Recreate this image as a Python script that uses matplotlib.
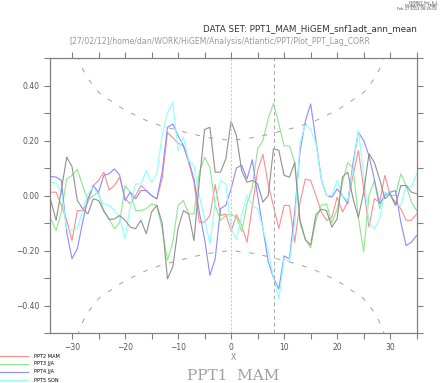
import numpy as np
import matplotlib
matplotlib.use("Agg")
import matplotlib.pyplot as plt
from matplotlib.ticker import MultipleLocator, FixedLocator

lags = list(range(-34, 36))

ppt2_mam = [0.012, 0.012, -0.036, -0.09, -0.164, -0.055, -0.055, -0.024, 0.036, 0.055,
            0.085, 0.02, 0.036, 0.067, -0.012, -0.03, 0.0, 0.036, 0.018, 0.0,
            -0.012, 0.06, 0.23, 0.21, 0.19, 0.18, 0.121, 0.048, -0.097, -0.097,
            -0.073, 0.04, -0.073, -0.067, -0.13, -0.07, -0.11, -0.17, -0.04, 0.09,
            0.15, 0.04, -0.04, -0.12, -0.036, -0.036, -0.17, -0.024, 0.06, 0.055,
            0.0, -0.06, -0.09, -0.08, -0.006, -0.06, -0.024, 0.073, 0.164, 0.024,
            -0.115, -0.012, -0.024, 0.073, 0.0, -0.024, -0.048, -0.09, -0.09, -0.067]

ppt3_jja = [-0.085, -0.127, -0.06, 0.06, 0.073, 0.095, 0.036, -0.018, 0.0, 0.012,
            -0.06, -0.085, -0.121, -0.097, 0.036, 0.012, -0.055, -0.055, -0.048, -0.03,
            -0.036, -0.121, -0.236, -0.17, -0.036, -0.018, -0.067, -0.067, 0.085, 0.139,
            0.103, -0.036, -0.09, -0.073, -0.067, -0.08, -0.13, -0.03, 0.03, 0.17,
            0.2, 0.28, 0.335, 0.26, 0.18, 0.18, 0.12, -0.1, -0.16, -0.19,
            -0.09, -0.036, -0.03, -0.1, -0.05, 0.048, 0.12, 0.1, -0.08, -0.206,
            0.0, 0.055, -0.048, 0.012, 0.0, 0.0, 0.079, 0.036, -0.024, -0.055]

ppt4_jja = [0.069, 0.067, 0.055, -0.133, -0.23, -0.194, -0.097, -0.012, 0.036, 0.012,
            0.073, 0.079, 0.097, 0.073, -0.018, 0.012, -0.012, 0.018, 0.018, 0.0,
            -0.012, 0.085, 0.248, 0.26, 0.218, 0.182, 0.127, 0.06, -0.06, -0.158,
            -0.29, -0.23, -0.048, -0.036, 0.024, 0.1, 0.11, 0.06, 0.13, 0.0,
            -0.12, -0.24, -0.3, -0.34, -0.22, -0.23, -0.06, 0.16, 0.27, 0.333,
            0.2, 0.06, 0.0, -0.006, 0.024, 0.0, -0.03, 0.12, 0.23, 0.2,
            0.145, 0.06, -0.03, 0.0, 0.012, 0.018, -0.097, -0.182, -0.17, -0.145]

ppt5_son = [0.048, 0.045, 0.012, -0.121, -0.127, -0.121, -0.055, 0.006, 0.03, 0.0,
            -0.03, -0.036, -0.055, -0.079, -0.158, -0.036, 0.042, 0.042, 0.091, 0.048,
            0.079, 0.22, 0.30, 0.34, 0.163, 0.212, 0.127, 0.109, 0.0, -0.085,
            -0.176, -0.024, 0.055, 0.042, -0.12, -0.16, -0.07, 0.0, -0.036, -0.048,
            -0.12, -0.2, -0.3, -0.376, -0.23, -0.24, -0.1, 0.19, 0.26, 0.24,
            0.19, 0.06, 0.0, 0.0, 0.055, 0.0, -0.02, 0.1, 0.236, 0.073,
            -0.097, -0.121, -0.085, 0.012, 0.0, -0.036, -0.036, 0.036, 0.03, 0.079]

ppt6 = [-0.018, -0.09, 0.02, 0.14, 0.105, -0.018, -0.048, -0.067, -0.012, -0.018,
        -0.055, -0.087, -0.085, -0.073, -0.09, -0.115, -0.121, -0.09, -0.139, -0.06,
        -0.036, -0.1, -0.303, -0.26, -0.12, -0.055, -0.067, -0.164, 0.05, 0.24,
        0.248, 0.085, 0.085, 0.133, 0.27, 0.218, 0.09, 0.048, 0.055, 0.042,
        -0.024, 0.0, 0.17, 0.164, 0.073, 0.067, 0.12, -0.09, -0.16, -0.18,
        -0.07, -0.05, -0.055, -0.115, -0.085, 0.067, 0.085, -0.012, -0.08, 0.012,
        0.152, 0.121, 0.06, -0.012, 0.006, -0.036, 0.036, 0.036, 0.012, 0.006]

sig_lags = [-29, -28, -27, -25, -22, -20, -16, -13, -10, -7, -4, 0, 4, 7, 10, 13, 16, 20, 22, 25, 27, 28, 29]
sig_upper = [0.51, 0.46, 0.425, 0.375, 0.335, 0.31, 0.273, 0.252, 0.237, 0.222, 0.21, 0.20,
             0.21, 0.222, 0.237, 0.252, 0.273, 0.31, 0.335, 0.375, 0.425, 0.46, 0.51]

series_labels = ["PPT2 MAM", "PPT3 JJA", "PPT4 JJA", "PPT5 SON", "PPT6"]
series_colors = ["#ff8c8c", "#8ce88c", "#8c8cff", "#8cffff", "#909090"]
yticks_major = [-0.4, -0.2, 0.0, 0.2, 0.4]
ytick_labels = ["\u22120.40", "\u22120.20", "0.00", "0.20", "0.40"]
xticks_major = [-30, -20, -10, 0, 10, 20, 30]
xtick_labels = ["\u221230", "\u221220", "\u221210", "0", "10", "20", "30"]

fig = plt.figure(figsize=(4.4, 3.83), dpi=100)
ax = fig.add_axes([50 / 440, 1 - 333 / 383, (416.7 - 50) / 440, (333 - 58) / 383])

series = [ppt2_mam, ppt3_jja, ppt4_jja, ppt5_son, ppt6]
handles = []
for vals, col, lab in zip(series, series_colors, series_labels):
    h, = ax.plot(lags, vals, color=col, lw=0.8, label=lab)
    handles.append(h)

sig_u = np.array(sig_upper)
ax.plot(sig_lags, sig_u, color="#a0a0a0", lw=0.7, ls=(0, (5, 9)))
ax.plot(sig_lags, -sig_u, color="#a0a0a0", lw=0.7, ls=(0, (5, 9)))

ax.axvline(0, color="#cccccc", lw=0.8, ls=(0, (2, 1.5)))
ax.axvline(8, color="#aaaaaa", lw=0.7, ls=(0, (4, 3)))

ax.set_xlim(-34.15, 35)
ax.set_ylim(-0.5, 0.5)

spine_col = "#808080"
for s in ax.spines.values():
    s.set_color(spine_col)
    s.set_linewidth(0.9)

ax.xaxis.set_major_locator(FixedLocator(xticks_major))
ax.set_xticklabels(xtick_labels)
ax.xaxis.set_minor_locator(MultipleLocator(5))
ax.yaxis.set_major_locator(FixedLocator(yticks_major))
ax.set_yticklabels(ytick_labels)
ax.yaxis.set_minor_locator(MultipleLocator(0.1))
ax.tick_params(which="both", direction="out", length=4.5, width=0.8, color=spine_col,
               top=True, right=True, labelsize=5.5, labelcolor="#555555", pad=3)
ax.tick_params(axis="x", pad=3)

fig.text(233 / 440, 1 - 357 / 383, "X", ha="center", va="center", fontsize=5.5, color="#888888")
fig.text(233 / 440, 1 - 376.5 / 383, "PPT1  MAM", ha="center", va="center", fontsize=11,
         color="#a0a0a0", family="DejaVu Serif")

fig.text(416.7 / 440, 1 - 28.3 / 383, "DATA SET: PPT1_MAM_HiGEM_snf1adt_ann_mean",
         ha="right", va="center", fontsize=6.3, color="#333333")
fig.text(220 / 440, 1 - 41.7 / 383,
         "[27/02/12]/home/dan/WORK/HiGEM/Analysis/Atlantic/PPT/Plot_PPT_Lag_CORR",
         ha="center", va="center", fontsize=5.6, color="#999999")
for i, t in enumerate(["FERRET Ver. 6.1", "NOAA/PMEL TMAP", "Feb 27 2012 08:35:02"]):
    fig.text(437 / 440, 1 - (2.8 + 2.9 * i) / 383, t, ha="right", va="center",
             fontsize=2.6, color="#444444")

fig.legend(handles[:4], series_labels[:4], loc="upper left",
           bbox_to_anchor=(0.0, 1 - 353.5 / 383), frameon=False, fontsize=3.6,
           handlelength=5.6, handletextpad=1.2, labelspacing=0.6, borderpad=0,
           borderaxespad=0)

fig.savefig("out.png", dpi=100)
